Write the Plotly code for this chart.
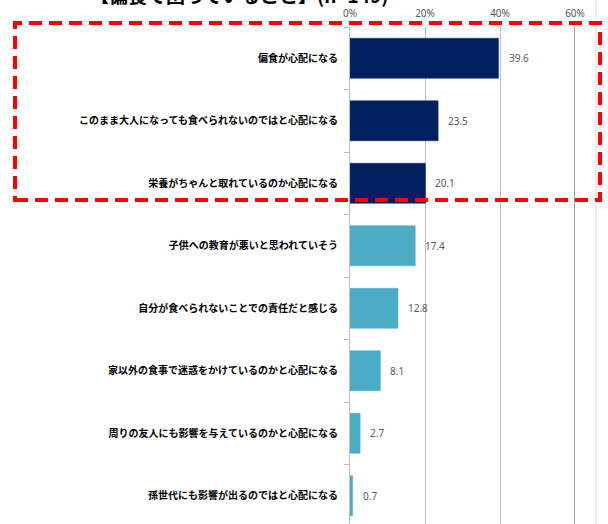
import plotly.graph_objects as go

categories = [
    "偏食が心配になる",
    "このまま大人になっても食べられないのではと心配になる",
    "栄養がちゃんと取れているのか心配になる",
    "子供への教育が悪いと思われていそう",
    "自分が食べられないことでの責任だと感じる",
    "家以外の食事で迷惑をかけているのかと心配になる",
    "周りの友人にも影響を与えているのかと心配になる",
    "孫世代にも影響が出るのではと心配になる",
]
values = [39.6, 23.5, 20.1, 17.4, 12.8, 8.1, 2.7, 0.7]
highlight = [True, True, True, False, False, False, False, False]
tick_vals = [0, 20, 40, 60]
tick_text = ["0%", "20%", "40%", "60%"]
title_text = "【偏食で困っていること】(n=149)"

NAVY = "#002060"
TEAL = "#4BACC6"
colors = [NAVY if h else TEAL for h in highlight]

PLOT_TOP = 27
PLOT_H = 524 - PLOT_TOP
PLOT_L = 350
PLOT_W = 225


def px_x(px):
    return (px - PLOT_L) / PLOT_W


def px_y(py):
    return (524 - py) / PLOT_H


fig = go.Figure()
fig.add_trace(go.Bar(
    x=values, y=categories, orientation="h",
    marker=dict(color=colors, line=dict(color=colors, width=0.5)),
    hoverinfo="skip",
))

for c, v in zip(categories, values):
    fig.add_annotation(x=v, y=c, text=f"{v:.1f}", xanchor="left", yanchor="middle",
                       xshift=8, showarrow=False,
                       font=dict(family="Noto Sans, Arial", size=10, color="#595959"))

# partially visible title at top (cut off by page edge)
fig.add_annotation(xref="paper", yref="paper", x=px_x(88), y=px_y(10),
                   text=title_text, showarrow=False, xanchor="left", yanchor="bottom",
                   font=dict(family="Noto Sans CJK JP", size=19, color="#000000", weight="bold"))

fig.update_layout(
    width=608, height=524,
    margin=dict(l=PLOT_L, r=608 - PLOT_L - PLOT_W, t=PLOT_TOP, b=0, pad=0),
    paper_bgcolor="white", plot_bgcolor="white",
    bargap=0.36,
    showlegend=False,
    font=dict(family="Noto Sans CJK JP", color="#000000"),
    xaxis=dict(
        range=[0, 60], side="top", tickvals=tick_vals, ticktext=tick_text,
        showgrid=True, gridcolor="#BFBFBF", gridwidth=1,
        zeroline=False, showline=False,
        tickfont=dict(family="Noto Sans, Arial", size=10, color="#595959"),
        ticks="", ticklabelstandoff=7,
    ),
    yaxis=dict(
        range=[7.452, -0.5], type="category",
        showline=True, linecolor="#BFBFBF", linewidth=1,
        ticks="outside", ticklen=5, tickcolor="#BFBFBF", tickson="boundaries",
        ticklabelstandoff=9,
        tickfont=dict(family="Noto Sans CJK JP", size=10, color="#000000", weight="bold"),
    ),
)

# darker 60% line and outer chart border
fig.add_shape(type="line", xref="x", yref="paper", x0=60, x1=60, y0=0, y1=1,
              line=dict(color="#7F7F7F", width=1.5))
fig.add_shape(type="line", xref="paper", yref="paper", x0=px_x(596), x1=px_x(596),
              y0=0, y1=px_y(0), line=dict(color="#D9D9D9", width=1))

# red dashed highlight rectangle
fig.add_shape(type="rect", xref="paper", yref="paper",
              x0=px_x(15), x1=px_x(600),
              y0=px_y(200), y1=px_y(23),
              line=dict(color="#FF0000", width=4, dash="13px,7px"))

fig.write_html("out.html")
